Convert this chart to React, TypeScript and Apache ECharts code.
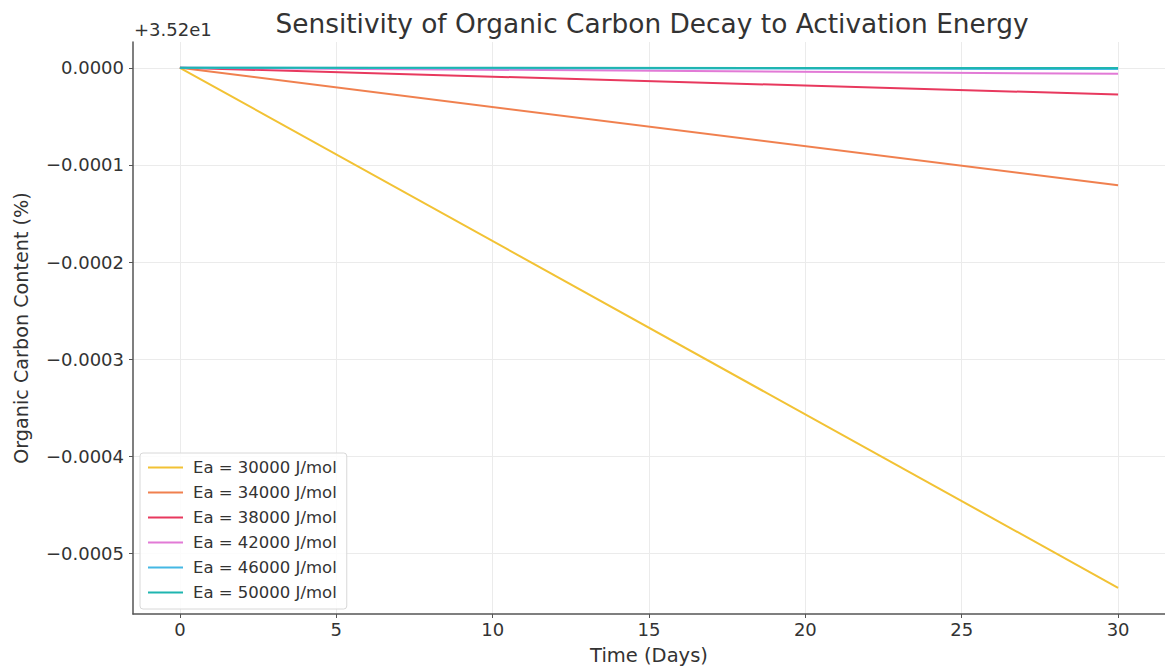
import React, { useEffect, useRef } from "react";
import * as echarts from "echarts";

const days = [0, 30];
const seriesNames = [
  "Ea = 30000 J/mol",
  "Ea = 34000 J/mol",
  "Ea = 38000 J/mol",
  "Ea = 42000 J/mol",
  "Ea = 46000 J/mol",
  "Ea = 50000 J/mol",
];
const ea30000 = [0, -0.000535];
const ea34000 = [0, -0.000121];
const ea38000 = [0, -0.0000275];
const ea42000 = [0, -0.0000062];
const ea46000 = [0, -0.0000014];
const ea50000 = [0, -0.0000003];
const seriesValues = [ea30000, ea34000, ea38000, ea42000, ea46000, ea50000];
const colors = ["#f2c234", "#f0804f", "#e8395e", "#e27ad6", "#45b8e4", "#1fb5b0"];
const xTicks = [0, 5, 10, 15, 20, 25, 30];
const yTicks = [0, -0.0001, -0.0002, -0.0003, -0.0004, -0.0005];
const offsetText = "+3.52e1";

const FONT = "DejaVu Sans";

export default function App() {
  const ref = useRef<HTMLDivElement>(null);
  useEffect(() => {
    if (!ref.current) return;
    const chart = echarts.init(ref.current, null, { renderer: "svg" });
    chart.setOption({
      animation: false,
      backgroundColor: "#ffffff",
      title: {
        text: "Sensitivity of Organic Carbon Decay to Activation Energy",
        left: 647,
        textAlign: "center",
        top: 5,
        textStyle: { fontFamily: FONT, fontSize: 26.4, fontWeight: "normal", color: "#333" },
      },
      graphic: [
        {
          type: "text",
          left: 134,
          top: 20,
          style: { text: offsetText, fontFamily: FONT, fontSize: 18, fill: "#333" },
        },
      ],
      legend: {
        orient: "vertical",
        left: 140,
        top: 453,
        data: seriesNames,
        icon: "rect",
        itemWidth: 35,
        itemHeight: 2,
        itemGap: 8,
        padding: [6, 10, 8, 8],
        backgroundColor: "rgba(255,255,255,0.85)",
        borderColor: "#d8d8d8",
        borderWidth: 1,
        borderRadius: 3,
        textStyle: {
          fontFamily: FONT,
          fontSize: 16.5,
          color: "#333",
          lineHeight: 17,
          padding: [0, 0, 0, 5],
        },
      },
      grid: { left: 133, top: 42, width: 1040, height: 581, containLabel: false },
      xAxis: {
        type: "value",
        min: -1.5,
        max: 31.5,
        name: "Time (Days)",
        nameLocation: "middle",
        nameGap: 31,
        nameTextStyle: { fontFamily: FONT, fontSize: 19.5, color: "#333" },
        axisLine: { show: true, onZero: false, lineStyle: { color: "#555", width: 1.5 } },
        axisTick: { show: true, customValues: xTicks, length: 4, lineStyle: { color: "#555" } },
        axisLabel: {
          customValues: xTicks,
          fontFamily: FONT,
          fontSize: 18,
          color: "#333",
          margin: 6,
        },
        splitLine: { show: true, lineStyle: { color: "#ebebeb", width: 1 } },
      },
      yAxis: {
        type: "value",
        min: -0.000562,
        max: 0.0000265,
        name: "Organic Carbon Content (%)",
        nameLocation: "middle",
        nameGap: 102,
        nameTextStyle: { fontFamily: FONT, fontSize: 19.2, color: "#333" },
        axisLine: { show: true, onZero: false, lineStyle: { color: "#555", width: 1.5 } },
        axisTick: { show: true, customValues: yTicks, length: 4, lineStyle: { color: "#555" } },
        axisLabel: {
          customValues: yTicks,
          fontFamily: FONT,
          fontSize: 18,
          color: "#333",
          margin: 9,
          formatter: (v: number) =>
            Math.abs(v) < 1e-12 ? "0.0000" : (v < 0 ? "\u2212" : "") + Math.abs(v).toFixed(4),
        },
        splitLine: { show: true, lineStyle: { color: "#ebebeb", width: 1 } },
      },
      series: seriesNames.map((name, i) => ({
        name,
        type: "line",
        showSymbol: false,
        color: colors[i],
        lineStyle: { width: 2, color: colors[i] },
        data: days.map((d, j) => [d, seriesValues[i][j]]),
      })),
    });
    return () => chart.dispose();
  }, []);
  return (
    <div
      ref={ref}
      style={{ position: "fixed", left: 0, top: 0, width: 1165, height: 670 }}
    />
  );
}
